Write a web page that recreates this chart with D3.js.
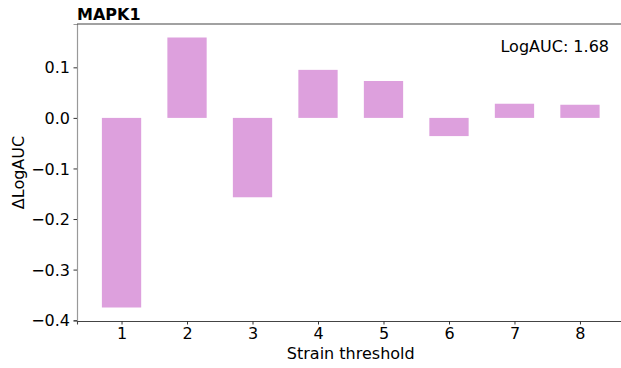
<!DOCTYPE html>
<html>
<head>
<meta charset="utf-8">
<script src="https://cdn.jsdelivr.net/npm/d3@7"></script>
<style>
  html, body { margin: 0; padding: 0; background: #fff; }
  svg text { font-family: "DejaVu Sans", sans-serif; fill: #000; }
</style>
</head>
<body>
<svg id="chart" width="621" height="368"></svg>
<script>
// Change in LogAUC per strain threshold for MAPK1
const thresholds = [1, 2, 3, 4, 5, 6, 7, 8];
const deltaLogAUC = [-0.375, 0.159, -0.157, 0.095, 0.073, -0.036, 0.028, 0.026];
const yTicks = [-0.4, -0.3, -0.2, -0.1, 0.0, 0.1];
const titleText = "MAPK1";
const noteText = "LogAUC: 1.68";

const svg = d3.select("#chart");
const plotLeft = 77, plotTop = 24, plotBottom = 321, plotRight = 624.5;

// Linear x domain like a bar plot with width 0.6 and 5% margins
const barW = 0.6;
const xMin = 1 - barW / 2, xMax = 8 + barW / 2;
const xPad = (xMax - xMin) * 0.05;
const x = d3.scaleLinear().domain([xMin - xPad, xMax + xPad]).range([plotLeft, plotRight]);

const yLo = d3.min(deltaLogAUC), yHi = d3.max(deltaLogAUC);
const yPad = (yHi - yLo) * 0.05;
const y = d3.scaleLinear().domain([yLo - yPad, yHi + yPad]).range([plotBottom, plotTop]);

// Bars
svg.append("g").selectAll("rect")
  .data(thresholds)
  .join("rect")
  .attr("x", (d) => x(d - barW / 2))
  .attr("width", (d) => x(d + barW / 2) - x(d - barW / 2))
  .attr("y", (d, i) => y(Math.max(0, deltaLogAUC[i])))
  .attr("height", (d, i) => Math.abs(y(deltaLogAUC[i]) - y(0)))
  .attr("fill", "#dda0dd");

// Axes
const fmt = (v) => d3.format(".1f")(v).replace("-", "\u2212");
const yAxis = svg.append("g")
  .attr("transform", `translate(${plotLeft},0)`)
  .call(d3.axisLeft(y).tickValues(yTicks).tickFormat(fmt).tickSizeOuter(0).tickSize(3.5).tickPadding(3.5));
yAxis.select(".domain").attr("stroke", "#999").attr("stroke-width", 1.2);
yAxis.selectAll(".tick line").attr("stroke", "#333");
yAxis.selectAll("text").attr("font-size", 16).attr("dy", "0.35em");

const xAxis = svg.append("g")
  .attr("transform", `translate(0,${plotBottom})`)
  .call(d3.axisBottom(x).tickValues(thresholds).tickFormat(d3.format("d")).tickSizeOuter(0).tickSize(3.5).tickPadding(3.5));
xAxis.select(".domain").attr("stroke", "#444").attr("stroke-width", 1.1);
xAxis.selectAll(".tick line").attr("stroke", "#333");
xAxis.selectAll("text").attr("font-size", 16).attr("dy", "0.71em");

// Top spine
svg.append("line")
  .attr("x1", plotLeft).attr("x2", plotRight)
  .attr("y1", plotTop).attr("y2", plotTop)
  .attr("stroke", "#444").attr("stroke-width", 1.1);

// Labels
svg.append("text")
  .attr("x", (plotLeft + plotRight) / 2).attr("y", 359)
  .attr("text-anchor", "middle").attr("font-size", 16)
  .text("Strain threshold");

svg.append("text")
  .attr("transform", `translate(24,${(plotTop + plotBottom) / 2}) rotate(-90)`)
  .attr("text-anchor", "middle").attr("font-size", 16)
  .text("\u0394LogAUC");

svg.append("text")
  .attr("x", plotLeft).attr("y", 20)
  .attr("font-size", 16).attr("font-weight", "bold")
  .text(titleText);

svg.append("text")
  .attr("x", 609).attr("y", 52)
  .attr("text-anchor", "end").attr("font-size", 16)
  .text(noteText);
</script>
</body>
</html>
